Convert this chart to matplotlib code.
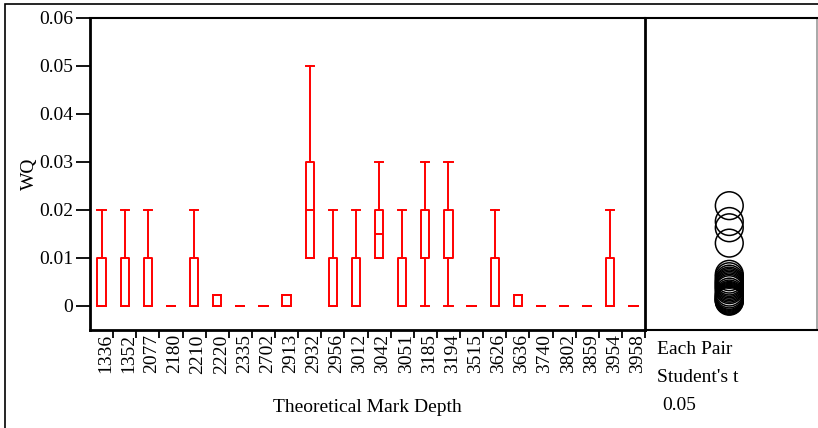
import matplotlib
matplotlib.use("Agg")
import matplotlib.pyplot as plt
import matplotlib.transforms as mtransforms
from matplotlib.patches import Rectangle

plt.rcParams['font.family'] = ['Liberation Serif', 'DejaVu Serif']

categories = ['1336', '1352', '2077', '2180', '2210', '2220', '2335', '2702',
              '2913', '2932', '2956', '3012', '3042', '3051', '3185', '3194',
              '3515', '3626', '3636', '3740', '3802', '3859', '3954', '3958']
whisker_low = [0, 0, 0, 0, 0, 0, 0, 0, 0, 0.01, 0, 0, 0.01, 0, 0, 0,
               0, 0, 0, 0, 0, 0, 0, 0]
q1_values = [0, 0, 0, 0, 0, 0, 0, 0, 0, 0.01, 0, 0, 0.01, 0, 0.01, 0.01,
             0, 0, 0, 0, 0, 0, 0, 0]
median_values = [0, 0, 0, 0, 0, 0, 0, 0, 0, 0.02, 0, 0, 0.015, 0, 0.01, 0.01,
                 0, 0, 0, 0, 0, 0, 0, 0]
q3_values = [0.01, 0.01, 0.01, 0, 0.01, 0.0022, 0, 0, 0.0022, 0.03, 0.01, 0.01,
             0.02, 0.01, 0.02, 0.02, 0, 0.01, 0.0022, 0, 0, 0, 0.01, 0]
whisker_high = [0.02, 0.02, 0.02, 0, 0.02, 0.0022, 0, 0, 0.0022, 0.05, 0.02, 0.02,
                0.03, 0.02, 0.03, 0.03, 0, 0.02, 0.0022, 0, 0, 0, 0.02, 0]

circle_centers = [0.0209, 0.0176, 0.0163, 0.0131,
                  0.0066, 0.0061, 0.0056, 0.0052, 0.0049, 0.0046, 0.0043,
                  0.0040, 0.0037, 0.0034, 0.0029, 0.0025, 0.0022, 0.0020,
                  0.0018, 0.0016, 0.0014, 0.0012, 0.0011, 0.0010]

ytick_values = [0, 0.01, 0.02, 0.03, 0.04, 0.05, 0.06]
ytick_labels = ['0', '0.01', '0.02', '0.03', '0.04', '0.05', '0.06']

W, H = 818, 428
FS = 14
fig = plt.figure(figsize=(W / 100, H / 100), dpi=100)

# outer frame
fig.patches.append(Rectangle((5 / W, -0.1), 1.2, 1 - 4 / H + 0.1,
                             transform=fig.transFigure, fill=False,
                             edgecolor='black', linewidth=1.2, clip_on=False))

left, right_div, right_end = 90, 645, 817
top, bottom = 18, 330
ax = fig.add_axes([left / W, 1 - bottom / H, (right_div - left) / W, (bottom - top) / H])
ax2 = fig.add_axes([right_div / W, 1 - bottom / H, (right_end - right_div) / W, (bottom - top) / H])

red = '#ff0000'
stats = []
for i, c in enumerate(categories):
    stats.append(dict(label=c, whislo=whisker_low[i], q1=q1_values[i],
                      med=median_values[i], q3=q3_values[i], whishi=whisker_high[i],
                      fliers=[]))
positions = list(range(1, len(categories) + 1))
ax.bxp(stats, positions=positions, widths=0.36, capwidths=0.36, showfliers=False,
       boxprops=dict(color=red, linewidth=1.4),
       whiskerprops=dict(color=red, linewidth=1.4),
       capprops=dict(color=red, linewidth=1.4),
       medianprops=dict(color=red, linewidth=1.4))

ax.set_xlim(0.5, len(categories) + 0.5)
ax.set_ylim(-0.005, 0.06)
ax.set_yticks(ytick_values)
ax.set_yticklabels(ytick_labels, fontsize=FS)
ax.tick_params(axis='y', direction='out', length=10, width=1.3, pad=2)

# boundary ticks (major) and labels on minor ticks
ax.set_xticks([p + 0.5 for p in positions])
ax.set_xticklabels([])
ax.tick_params(axis='x', which='major', direction='out', length=6, width=1.3)
ax.set_xticks(positions, minor=True)
ax.set_xticklabels(categories, minor=True, rotation=90, fontsize=FS,
                   va='top', ha='center')
ax.tick_params(axis='x', which='minor', length=0, pad=3)
offset = mtransforms.ScaledTranslation(4 / 100, 0, fig.dpi_scale_trans)
for lbl in ax.get_xticklabels(minor=True):
    lbl.set_transform(lbl.get_transform() + offset)

for s in ['left', 'bottom']:
    ax.spines[s].set_linewidth(2)
ax.spines['top'].set_linewidth(1.5)
ax.spines['right'].set_visible(False)

ax.set_ylabel('WQ', fontsize=FS, labelpad=1)
fig.text(367 / W, 1 - 408 / H, 'Theoretical Mark Depth', ha='center', va='center', fontsize=FS)

# comparison circles
ax2.scatter([0.49] * len(circle_centers), circle_centers, s=400,
            facecolors='none', edgecolors='black', linewidths=1.1)
ax2.set_xlim(0, 1)
ax2.set_ylim(-0.005, 0.06)
ax2.set_xticks([])
ax2.set_yticks([])
ax2.spines['left'].set_linewidth(2)
ax2.spines['left'].set_color('black')
ax2.spines['top'].set_linewidth(1.5)
ax2.spines['bottom'].set_linewidth(1.5)
ax2.spines['right'].set_color('#999999')
ax2.spines['right'].set_linewidth(1.2)

fig.text(657 / W, 1 - 350 / H, 'Each Pair', ha='left', va='center', fontsize=FS)
fig.text(657 / W, 1 - 377 / H, "Student's t", ha='left', va='center', fontsize=FS)
fig.text(662 / W, 1 - 405 / H, '0.05', ha='left', va='center', fontsize=FS)

fig.savefig('out.png', dpi=100)
